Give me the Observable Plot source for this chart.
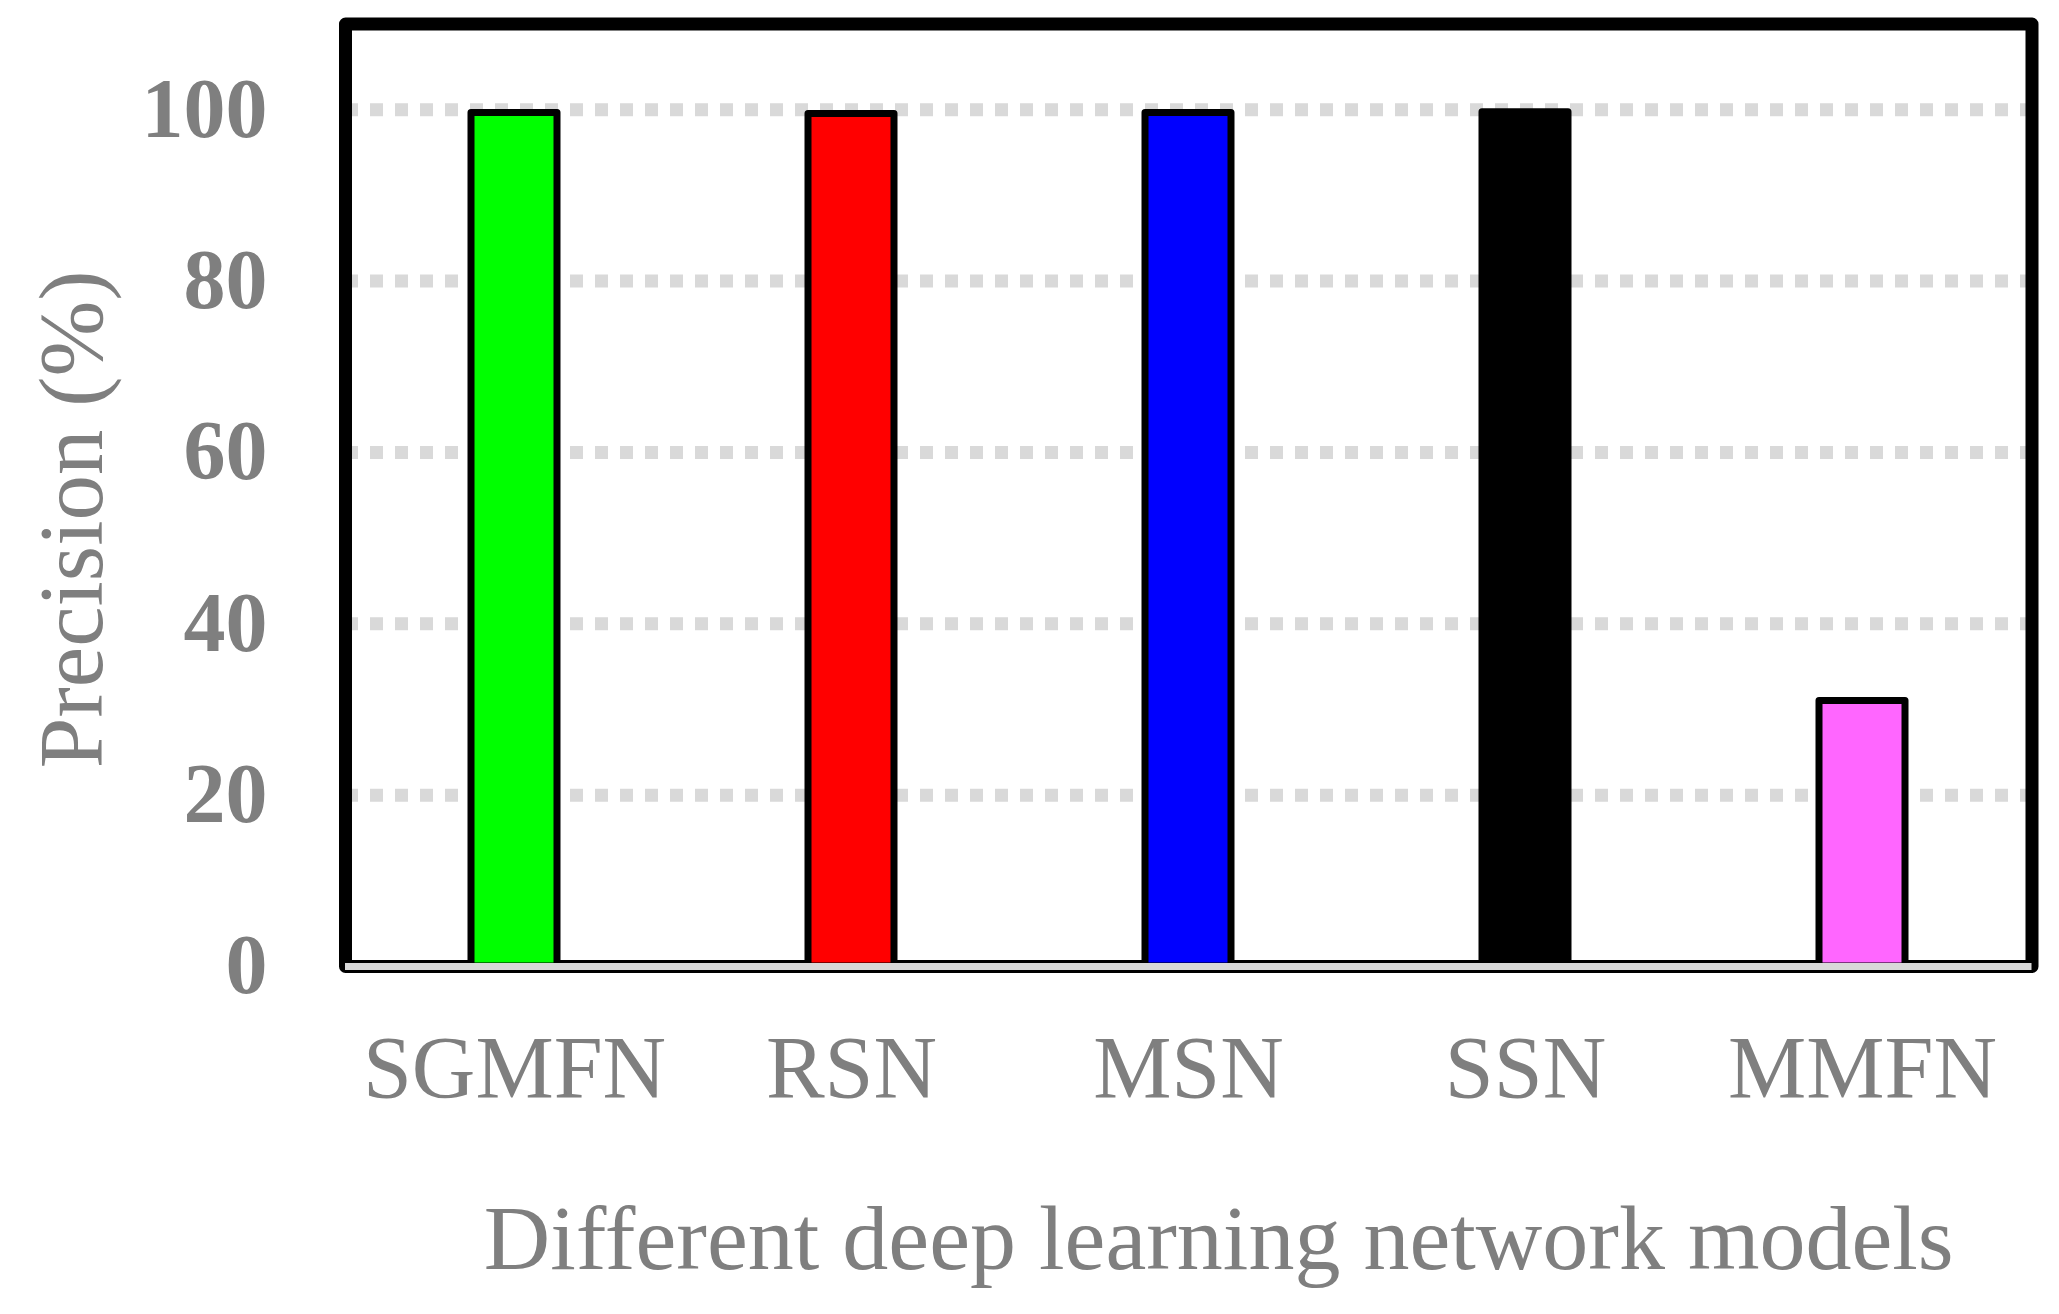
<!DOCTYPE html>
<html>
<head>
<meta charset="utf-8">
<script src="https://cdn.jsdelivr.net/npm/d3@7"></script>
<script src="https://cdn.jsdelivr.net/npm/@observablehq/plot@0.6"></script>
<style>
  html, body { margin: 0; padding: 0; background: #fff; }
  #chart svg { display: block; }
</style>
</head>
<body>
<div id="chart"></div>
<script>
const models = ["SGMFN", "RSN", "MSN", "SSN", "MMFN"];
const precision = [99.6, 99.5, 99.6, 99.7, 31.0];
const barColors = ["#00ff00", "#ff0000", "#0000ff", "#000000", "#ff66ff"];
const yTicks = [0, 20, 40, 60, 80, 100];
const gridTicks = [20, 40, 60, 80, 100];
const xTitle = "Different deep learning network models";
const yTitle = "Precision (%)";

const rows = models.map((m, i) => ({model: m, value: precision[i], color: barColors[i]}));
const textGray = "#7f7f7f";
const serif = "'Liberation Serif', 'Times New Roman', serif";

const chart = Plot.plot({
  width: 2059,
  height: 1314,
  marginTop: 23.5,
  marginLeft: 345,
  marginRight: 27.5,
  marginBottom: 348,
  style: {fontFamily: serif, background: "white", color: textGray, overflow: "visible"},
  x: {domain: models, paddingInner: 0.745, paddingOuter: 0.3725, axis: null},
  y: {domain: [0, 110], axis: null},
  marks: [
    Plot.ruleY(gridTicks, {stroke: "#d9d9d9", strokeWidth: 13, strokeDasharray: "13 12"}),
    Plot.frame({stroke: "black", strokeWidth: 13, strokeLinejoin: "round"}),
    Plot.barY(rows, {x: "model", y: "value", fill: "color", stroke: "black", strokeWidth: 7, strokeLinejoin: "round"}),
    Plot.ruleY([0], {stroke: "#d9d9d9", strokeWidth: 7}),
    Plot.axisY({ticks: yTicks, tickSize: 0, tickPadding: 78, tickFormat: d => String(d),
      fontSize: 84, fontWeight: "bold", fontFamily: serif, color: textGray, label: null}),
    Plot.axisX({tickSize: 0, tickPadding: 68, fontSize: 88, fontFamily: serif, color: textGray, label: null}),
    Plot.text([xTitle], {frameAnchor: "bottom", textAnchor: "middle", lineAnchor: "bottom", dx: 30, dy: 302,
      fontSize: 92, fontFamily: serif, fill: textGray}),
    Plot.text([yTitle], {frameAnchor: "left", textAnchor: "middle", lineAnchor: "bottom", rotate: -90, dx: -244, dy: 24,
      fontSize: 91, fontFamily: serif, fill: textGray})
  ]
});
document.getElementById("chart").appendChild(chart);
</script>
</body>
</html>
